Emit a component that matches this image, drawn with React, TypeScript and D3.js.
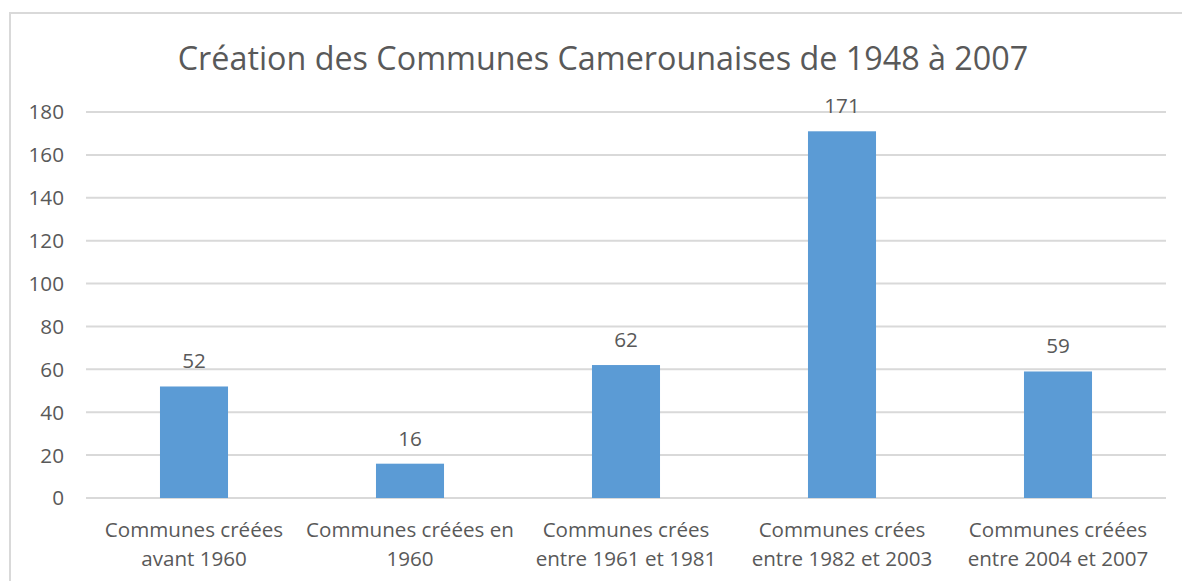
import React from "react";
import * as d3 from "d3";

const categories: string[][] = [
  ["Communes créées", "avant 1960"],
  ["Communes créées en", "1960"],
  ["Communes crées", "entre 1961 et 1981"],
  ["Communes crées", "entre 1982 et 2003"],
  ["Communes créées", "entre 2004 et 2007"],
];
const values: number[] = [52, 16, 62, 171, 59];
const yTicks: number[] = [0, 20, 40, 60, 80, 100, 120, 140, 160, 180];
const title = "Création des Communes Camerounaises de 1948 à 2007";

const W = 1182;
const H = 581;
const FONT = "'Open Sans', 'Noto Sans', sans-serif";
const TEXT = "#595959";
const GRID = "#d9d9d9";
const BAR = "#5b9bd5";

export default function App() {
  const x = d3
    .scaleBand<number>()
    .domain(d3.range(values.length))
    .range([86, 1166])
    .paddingInner(0.685)
    .paddingOuter(0.3425);
  const y = d3.scaleLinear().domain([0, 180]).range([498, 112]);
  const band = (1166 - 86) / values.length;

  return (
    <svg
      width={W}
      height={H}
      style={{ position: "absolute", left: 0, top: 0, display: "block", background: "#fff" }}
    >
      <rect x={10} y={13} width={1300} height={700} fill="#fff" stroke={GRID} strokeWidth={2} />
      <text
        x={603}
        y={70}
        textAnchor="middle"
        fontFamily={FONT}
        fontSize={32.3}
        fill={TEXT}
      >
        {title}
      </text>
      {yTicks.map((t) => (
        <g key={t}>
          <line x1={86} x2={1166} y1={y(t)} y2={y(t)} stroke={GRID} strokeWidth={2} />
          <text
            x={64}
            y={y(t)}
            dy="0.36em"
            textAnchor="end"
            fontFamily={FONT}
            fontSize={20.7}
            fill={TEXT}
          >
            {t}
          </text>
        </g>
      ))}
      {values.map((v, i) => (
        <g key={i}>
          <rect
            x={x(i)!}
            y={y(v)}
            width={x.bandwidth()}
            height={y(0) - y(v)}
            fill={BAR}
          />
          <text
            x={x(i)! + x.bandwidth() / 2}
            y={y(v) - 18}
            textAnchor="middle"
            fontFamily={FONT}
            fontSize={20.7}
            fill={TEXT}
          >
            {v}
          </text>
        </g>
      ))}
      {categories.map((lines, i) => (
        <text
          key={i}
          x={86 + band * (i + 0.5)}
          y={537}
          textAnchor="middle"
          fontFamily={FONT}
          fontSize={20.6}
          fill={TEXT}
        >
          {lines.map((l, j) => (
            <tspan key={j} x={86 + band * (i + 0.5)} dy={j === 0 ? 0 : 28.5}>
              {l}
            </tspan>
          ))}
        </text>
      ))}
    </svg>
  );
}
